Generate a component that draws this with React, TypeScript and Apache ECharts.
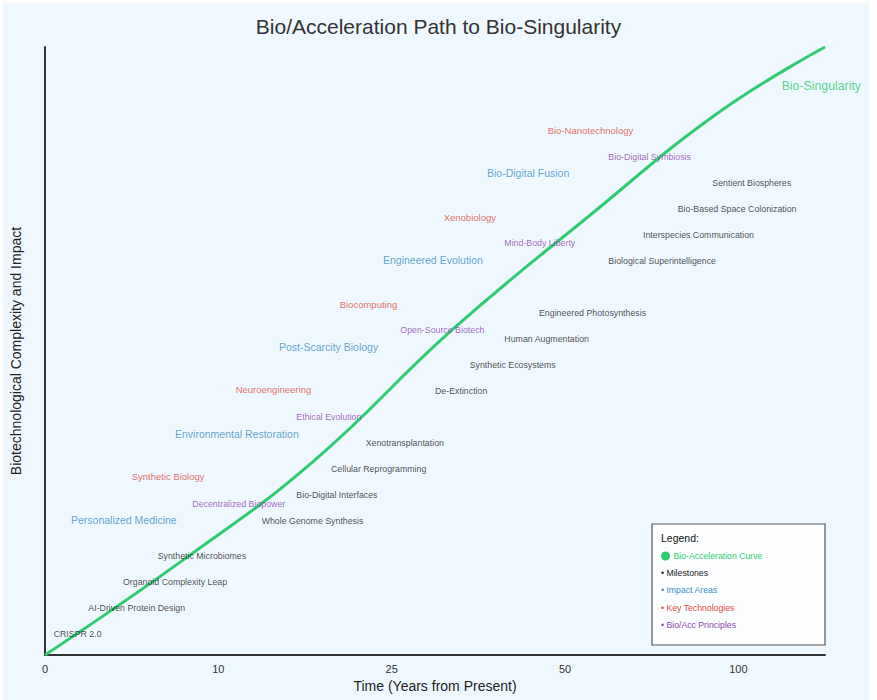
import React, { useEffect, useRef } from "react";
import * as echarts from "echarts";

const xTickLabels = ["0", "10", "25", "50", "100"];

const curveX = [0, 0.82, 1.55, 2.35, 3.13, 3.89, 4.5];
const curveY = [0, 16.1, 31.9, 53.5, 72, 89.3, 100];

const milestoneNames = [
  "CRISPR 2.0",
  "AI-Driven Protein Design",
  "Organoid Complexity Leap",
  "Synthetic Microbiomes",
  "Whole Genome Synthesis",
  "Bio-Digital Interfaces",
  "Cellular Reprogramming",
  "Xenotransplantation",
  "De-Extinction",
  "Synthetic Ecosystems",
  "Human Augmentation",
  "Engineered Photosynthesis",
  "Biological Superintelligence",
  "Interspecies Communication",
  "Bio-Based Space Colonization",
  "Sentient Biospheres",
];
const milestoneX = [0.05, 0.25, 0.45, 0.65, 1.25, 1.45, 1.65, 1.85, 2.25, 2.45, 2.65, 2.85, 3.25, 3.45, 3.65, 3.85];
const milestoneY = [3.45, 7.73, 12.0, 16.3, 22.0, 26.3, 30.6, 34.9, 43.4, 47.7, 52.0, 56.3, 64.8, 69.1, 73.4, 77.6];

const impactNames = [
  "Personalized Medicine",
  "Environmental Restoration",
  "Post-Scarcity Biology",
  "Engineered Evolution",
  "Bio-Digital Fusion",
];
const impactX = [0.15, 0.75, 1.35, 1.95, 2.55];
const impactY = [22.2, 36.3, 50.7, 65.0, 79.3];

const techNames = ["Synthetic Biology", "Neuroengineering", "Biocomputing", "Xenobiology", "Bio-Nanotechnology"];
const techX = [0.5, 1.1, 1.7, 2.3, 2.9];
const techY = [29.3, 43.6, 57.7, 72.0, 86.3];

const principleNames = [
  "Decentralized Biopower",
  "Ethical Evolution",
  "Open-Source Biotech",
  "Mind-Body Liberty",
  "Bio-Digital Symbiosis",
];
const principleX = [0.85, 1.45, 2.05, 2.65, 3.25];
const principleY = [24.8, 39.1, 53.5, 67.8, 81.9];

const endLabelName = ["Bio-Singularity"];
const endLabelX = [4.25];
const endLabelY = [93.6];

const FONT = "'Liberation Sans', Arial, Helvetica, sans-serif";
const GREEN = "#2ecc71";
const BLUE = "#3a8fc8";
const RED = "#dc4a3c";
const PURPLE = "#8e44ad";
const DARK = "#1a1a1a";

function labelSeries(names: string[], xs: number[], ys: number[], color: string, size: number) {
  return {
    type: "scatter",
    symbolSize: 0,
    silent: true,
    z: 5,
    data: names.map((n, i) => ({ name: n, value: [xs[i], ys[i]] })),
    label: {
      show: true,
      position: "right",
      distance: 0,
      formatter: "{b}",
      color,
      fontSize: size,
      fontFamily: FONT,
      align: "left",
      verticalAlign: "middle",
    },
  };
}

export default function App() {
  const ref = useRef<HTMLDivElement>(null);
  useEffect(() => {
    if (!ref.current) return;
    const chart = echarts.init(ref.current, null, { renderer: "svg" });
    const legendItems = [
      { text: "• Milestones", color: DARK, y: 573 },
      { text: "• Impact Areas", color: BLUE, y: 590 },
      { text: "• Key Technologies", color: RED, y: 607.5 },
      { text: "• Bio/Acc Principles", color: PURPLE, y: 624.5 },
    ];
    chart.setOption({
      animation: false,
      backgroundColor: "#ffffff",
      textStyle: { fontFamily: FONT },
      title: {
        text: "Bio/Acceleration Path to Bio-Singularity",
        left: "center",
        top: 11,
        textStyle: { fontSize: 21, fontWeight: "normal", color: "#333", fontFamily: FONT },
      },
      grid: { left: 45, right: 52, top: 47, bottom: 45, containLabel: false },
      xAxis: {
        type: "value",
        min: 0,
        max: 4.5,
        interval: 1,
        name: "Time (Years from Present)",
        nameLocation: "middle",
        nameGap: 21,
        nameTextStyle: { fontSize: 14, color: "#222", fontFamily: FONT },
        axisLine: { show: true, lineStyle: { color: "#333", width: 2 } },
        axisTick: { show: false },
        splitLine: { show: false },
        axisLabel: {
          margin: 8,
          fontSize: 11,
          color: "#333",
          fontFamily: FONT,
          formatter: (v: number) => (Number.isInteger(v) && xTickLabels[v] !== undefined ? xTickLabels[v] : ""),
        },
      },
      yAxis: {
        type: "value",
        min: 0,
        max: 100,
        name: "Biotechnological Complexity and Impact",
        nameLocation: "middle",
        nameGap: 22,
        nameTextStyle: { fontSize: 14, color: "#222", fontFamily: FONT },
        axisLine: { show: true, lineStyle: { color: "#333", width: 2 } },
        axisTick: { show: false },
        axisLabel: { show: false },
        splitLine: { show: false },
      },
      graphic: [
        {
          type: "rect",
          z: -100,
          silent: true,
          shape: { x: 3, y: 3, width: 866, height: 697 },
          style: { fill: "#f0f8ff" },
        },
        {
          type: "rect",
          z: 100,
          silent: true,
          shape: { x: 652, y: 524, width: 173, height: 121 },
          style: { fill: "rgba(255,255,255,0.8)", stroke: "#555", lineWidth: 1.2 },
        },
        {
          type: "text",
          z: 101,
          silent: true,
          x: 661,
          y: 538,
          style: { text: "Legend:", fill: "#111", fontSize: 10.5, fontFamily: FONT, verticalAlign: "middle" },
        },
        {
          type: "circle",
          z: 101,
          silent: true,
          shape: { cx: 665.5, cy: 556, r: 4.5 },
          style: { fill: GREEN },
        },
        {
          type: "text",
          z: 101,
          silent: true,
          x: 673.5,
          y: 556,
          style: { text: "Bio-Acceleration Curve", fill: GREEN, fontSize: 8.7, fontFamily: FONT, verticalAlign: "middle" },
        },
        ...legendItems.map((it) => ({
          type: "text",
          z: 101,
          silent: true,
          x: 661,
          y: it.y,
          style: { text: it.text, fill: it.color, fontSize: 8.7, fontFamily: FONT, verticalAlign: "middle" },
        })),
      ],
      series: [
        {
          type: "line",
          data: curveX.map((x, i) => [x, curveY[i]]),
          smooth: 0.45,
          symbol: "none",
          silent: true,
          z: 3,
          lineStyle: { color: GREEN, width: 3 },
        },
        labelSeries(milestoneNames, milestoneX, milestoneY, DARK, 8.8),
        labelSeries(impactNames, impactX, impactY, BLUE, 10.5),
        labelSeries(techNames, techX, techY, RED, 9.5),
        labelSeries(principleNames, principleX, principleY, PURPLE, 8.8),
        labelSeries(endLabelName, endLabelX, endLabelY, GREEN, 12.3),
      ],
    });
    return () => chart.dispose();
  }, []);
  return <div ref={ref} style={{ position: "fixed", left: 0, top: 0, width: 877, height: 700 }} />;
}
